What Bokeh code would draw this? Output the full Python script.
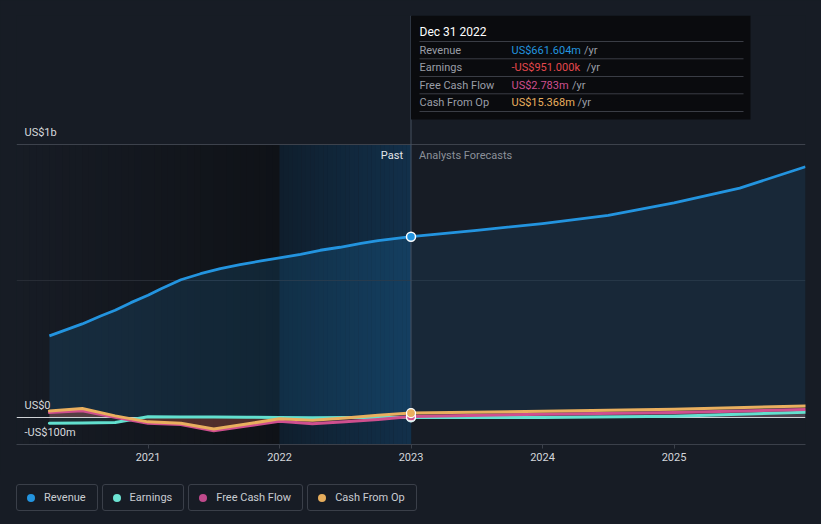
from bokeh.plotting import figure
from bokeh.models import Range1d, FixedTicker, Div, GlobalInlineStyleSheet
from bokeh.layouts import column
from bokeh.core.properties import value
from bokeh.embed import file_html
from bokeh.resources import INLINE

# ---------------- data (US$ millions, dates as fractional years) ----------------
rev_dates = [2020.25, 2020.5, 2020.64, 2020.75, 2020.87, 2021.0, 2021.1, 2021.25,
             2021.4, 2021.55, 2021.7, 2021.86, 2022.0, 2022.16, 2022.31, 2022.46,
             2022.62, 2022.75, 2023.0]
revenue_past = [298, 342, 371, 392, 420, 447, 471, 504,
                526, 545, 559, 573, 584, 597, 612, 623,
                637, 647, 661.604]

past_dates = [2020.25, 2020.5, 2020.75, 2021.0, 2021.25, 2021.5, 2021.75,
              2022.0, 2022.25, 2022.5, 2022.75, 2023.0]
earnings_past = [-22, -21, -19, 2, 1, 1, 0, -1, -2, -1, -1, -0.951]
fcf_past = [17, 24, 0, -22, -27, -50, -32, -15, -24, -17, -8, 2.783]
cfo_past = [23, 32, 5, -17, -22, -43, -25, -6, -11, -3, 7, 15.368]

rev_fc_dates = [2023.0, 2023.5, 2024.0, 2024.5, 2025.0, 2025.5, 2026.0]
revenue_fc = [661.604, 685, 710, 740, 786, 840, 918]
fc_dates = [2023.0, 2024.0, 2025.0, 2026.0]
earnings_fc = [-0.951, -1, 4, 18]
fcf_fc = [2.783, 11, 17, 28]
cfo_fc = [15.368, 22, 29, 41]

x_ticks = [2021, 2022, 2023, 2024, 2025]
x_tick_labels = ["2021", "2022", "2023", "2024", "2025"]
y_label_vals = [1000, 0, -100]
y_label_text = ["US$1b", "US$0", "-US$100m"]

series_names = ["Revenue", "Earnings", "Free Cash Flow", "Cash From Op"]
tip_values = ["US$661.604m", "-US$951.000k", "US$2.783m", "US$15.368m"]
tip_date = "Dec 31 2022"

# ---------------- style ----------------
BG = "#171c25"
C_REV = "#2394df"
C_EARN = "#62e0cf"
C_FCF = "#cf4f8e"
C_CFO = "#e9af5e"
C_NEG = "#e5484d"
FONT = "Roboto"

x_start, x_end = 2020.0, 2026.0
y_bottom, y_top = -100.0, 1472.5

# page-pixel helpers (frame: x 16..805, y 15..444) used only for annotation placement
def px2x(px):
    return x_start + (px - 16) / (805 - 16) * (x_end - x_start)

def py2y(py):
    return y_bottom + (444 - py) / (444 - 15) * (y_top - y_bottom)

p = figure(width=821, height=475, output_backend="svg", toolbar_location=None,
           x_range=Range1d(x_start, x_end), y_range=Range1d(y_bottom, y_top),
           y_axis_location=None, min_border_left=16, min_border_right=16,
           min_border_top=15, min_border_bottom=31)
p.background_fill_color = BG
p.border_fill_color = BG
p.outline_line_color = None
p.grid.visible = False

# x axis
ax = p.xaxis[0]
ax.ticker = FixedTicker(ticks=x_ticks)
ax.major_label_overrides = {t: l for t, l in zip(x_ticks, x_tick_labels)}
ax.axis_line_color = "#3b404a"
ax.major_tick_line_color = "#3b404a"
ax.major_tick_out = 4
ax.major_tick_in = 0
ax.minor_tick_line_color = None
ax.major_label_text_color = "#d3d6db"
ax.major_label_text_font = FONT
ax.major_label_text_font_size = "11px"
ax.major_label_standoff = 4


def hex_mix(c1, c2, t):
    a = [int(c1[i:i + 2], 16) for i in (1, 3, 5)]
    b = [int(c2[i:i + 2], 16) for i in (1, 3, 5)]
    return "#%02x%02x%02x" % tuple(round(a[k] + (b[k] - a[k]) * t) for k in range(3))


# background shading: darkening past, highlighted last year
n1 = 40
l1 = [2020.0 + 2.0 * i / n1 for i in range(n1)]
r1 = [v + 2.0 / n1 * 1.05 for v in l1]
c1 = [hex_mix(BG, "#0f1217", (i + 0.5) / n1) for i in range(n1)]
p.quad(left=l1, right=r1, top=1000, bottom=y_bottom, fill_color=c1, line_color=None)
n2 = 30
l2 = [2022.0 + 1.0 * i / n2 for i in range(n2)]
r2 = [v + 1.0 / n2 * 1.05 for v in l2]
c2 = [hex_mix("#0f1e2d", "#12304a", (i + 0.5) / n2) for i in range(n2)]
p.quad(left=l2, right=r2, top=1000, bottom=y_bottom, fill_color=c2, line_color=None)

# gridlines
p.hspan(y=[1000], line_color="#3d424c", line_width=1)
p.hspan(y=[500], line_color="#272c35", line_width=1)

# revenue area
p.varea(x=rev_dates, y1=0, y2=revenue_past, fill_color=C_REV, fill_alpha=0.15)
p.varea(x=rev_fc_dates, y1=0, y2=revenue_fc, fill_color=C_REV, fill_alpha=0.11)

# small series areas
for d, v, c, a in [(past_dates, earnings_past, C_EARN, 0.10),
                   (past_dates, fcf_past, C_NEG, 0.22),
                   (past_dates, cfo_past, C_CFO, 0.10),
                   (fc_dates, earnings_fc, C_EARN, 0.08),
                   (fc_dates, fcf_fc, C_FCF, 0.15),
                   (fc_dates, cfo_fc, C_CFO, 0.10)]:
    p.varea(x=d, y1=0, y2=v, fill_color=c, fill_alpha=a)

# zero line
p.hspan(y=[0], line_color="#cfd2d6", line_width=1)

# vertical divider at present
p.segment(x0=[2023], x1=[2023], y0=[0], y1=[y_top], line_color="#465160", line_width=1)

# series lines
for d, v, c in [(past_dates, earnings_past, C_EARN), (fc_dates, earnings_fc, C_EARN),
                (past_dates, fcf_past, C_FCF), (fc_dates, fcf_fc, C_FCF),
                (past_dates, cfo_past, C_CFO), (fc_dates, cfo_fc, C_CFO)]:
    p.line(d, v, line_color=c, line_width=3, line_join="round", line_cap="round")
p.line(rev_dates, revenue_past, line_color=C_REV, line_width=2.8, line_join="round")
p.line(rev_fc_dates, revenue_fc, line_color=C_REV, line_width=2.8, line_join="round")

# markers at present
p.scatter([past_dates[-1]] * 3, [earnings_past[-1], fcf_past[-1], cfo_past[-1]],
          size=9, fill_color=[C_EARN, C_FCF, C_CFO], line_color="white", line_width=1.2)
p.scatter([rev_dates[-1]], [revenue_past[-1]], size=9, fill_color=C_REV,
          line_color="white", line_width=1.5)

# y labels inside the plot
p.text(x=[x_start] * len(y_label_vals), y=y_label_vals, text=y_label_text,
       x_offset=8, y_offset=-12, text_baseline="alphabetic", text_align="left",
       text_color="#d6d9dd", text_font=value(FONT), text_font_size="11px")

# Past / Analysts Forecasts
p.text(x=[2023], y=[1000], text=["Past"], x_offset=-8, y_offset=11,
       text_align="right", text_baseline="middle", text_color="#e2e5e9",
       text_font=value(FONT), text_font_size="11px")
p.text(x=[2023], y=[1000], text=["Analysts Forecasts"], x_offset=8, y_offset=11,
       text_align="left", text_baseline="middle", text_color="#8b9099",
       text_font=value(FONT), text_font_size="11px")

# tooltip
p.quad(left=[2023], right=[px2x(750)], top=[y_top], bottom=[py2y(119)],
       fill_color="#0a0b0e", line_color=None)
sep_y = [py2y(v) for v in (41, 58.3, 76, 93.3, 111)]
p.segment(x0=[px2x(419)] * 5, x1=[px2x(743)] * 5, y0=sep_y, y1=sep_y,
          line_color="#3a3d45", line_width=1)
p.text(x=[px2x(419)], y=[py2y(31)], text=[tip_date], text_color="#ffffff",
       text_font=value(FONT), text_font_size="12px", text_baseline="middle")
row_y = [py2y(v) for v in (49.5, 67, 84.5, 101.8)]
p.text(x=[px2x(419)] * 4, y=row_y, text=series_names, text_color="#9a9ea7",
       text_font=value(FONT), text_font_size="11px", text_baseline="middle")
p.text(x=[px2x(511)] * 4, y=row_y, text=tip_values,
       text_color=[C_REV, C_NEG, C_FCF, C_CFO],
       text_font=value(FONT), text_font_size="11px", text_baseline="middle")
p.text(x=[px2x(v) for v in (583.5, 586, 571.5, 577)], y=row_y, text=["/yr"] * 4,
       text_color="#9a9ea7", text_font=value(FONT), text_font_size="11px",
       text_baseline="middle")

# legend (HTML buttons)
legend_colors = ["#2394df", "#6ce3d3", "#c04a8c", "#e6ad5c"]
items = "".join(
    '<div style="box-sizing:border-box;height:27px;border:1px solid #3a3f49;border-radius:3px;'
    'padding:0 11px 0 10px;display:flex;align-items:center;">'
    '<span style="display:inline-block;width:8px;height:8px;border-radius:50%%;background:%s;'
    'margin-right:9px;"></span><span>%s</span></div>' % (c, n)
    for c, n in zip(legend_colors, series_names))
legend = Div(text='<div style="display:flex;gap:4px;margin-top:9px;margin-left:16px;'
                  'font-family:Roboto;font-size:11px;color:#c9ccd2;">%s</div>' % items,
             width=821, height=49, margin=(0, 0, 0, 0))

layout = column(p, legend, spacing=0)
layout.stylesheets = [GlobalInlineStyleSheet(css="html, body { background-color: #171c25; }")]

open("out.html", "w").write(file_html(layout, INLINE))
